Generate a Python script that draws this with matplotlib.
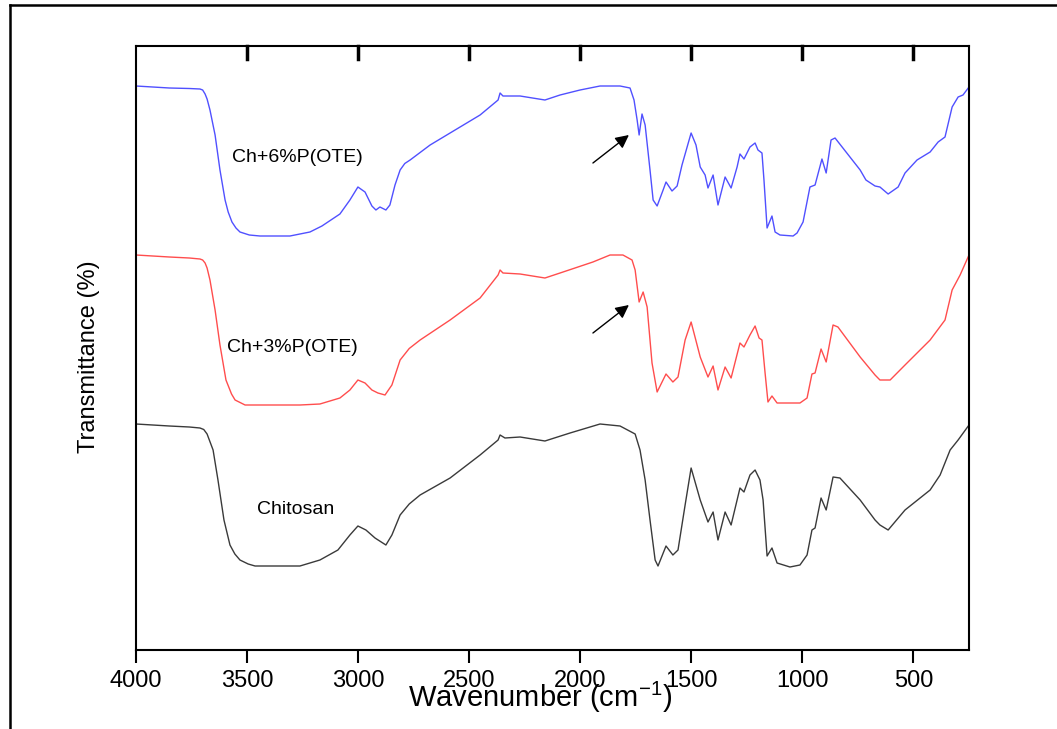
import numpy as np
import matplotlib
matplotlib.use('Agg')
import matplotlib.pyplot as plt
from matplotlib.lines import Line2D

plt.rcParams['font.family'] = ['Liberation Sans', 'DejaVu Sans']
plt.rcParams['mathtext.fontset'] = 'custom'
plt.rcParams['mathtext.rm'] = 'Liberation Sans'
plt.rcParams['mathtext.it'] = 'Liberation Sans:italic'

# FTIR spectra (wavenumber in cm-1, transmittance in offset arbitrary units)
wn_6 = [4000, 3850, 3760, 3712, 3700, 3689, 3680, 3667, 3644, 3622, 3599, 3585,
        3568, 3550, 3532, 3490, 3442, 3307, 3217,
        3163, 3082, 3037, 3001, 2969, 2938, 2920, 2902, 2875, 2857, 2834, 2811,
        2790, 2766, 2676, 2541, 2451, 2370, 2361, 2348, 2271, 2159, 2091, 2001, 1911,
        1821, 1776, 1758, 1744, 1735, 1722, 1708, 1686, 1672, 1654, 1627, 1614,
        1587, 1564, 1542, 1501, 1479, 1460, 1438, 1425, 1402, 1380, 1348, 1321,
        1294, 1281, 1263, 1236, 1213, 1200, 1182, 1173, 1159, 1137, 1123, 1101,
        1042, 1024, 997, 966, 943, 912, 893, 871, 853, 740, 714, 673, 651, 614,
        569, 538, 484, 425, 389, 358, 326, 299, 277, 250]
t_6 = [112.8, 112.4, 112.3, 112.2, 112.0, 111.2, 110.2, 108, 103, 96, 90, 87.6,
       85.6, 84.4, 83.6, 83.0, 82.8, 82.8, 83.6,
       84.8, 87.2, 90, 92.6, 91.6, 88.8, 88, 88.6, 88, 89, 93, 96,
       97.3, 98, 101, 104.6, 107, 110, 111.4, 110.8, 110.8, 110, 111, 112, 112.8,
       112.8, 112.4, 110, 106, 103, 107.2, 105, 96, 90, 88.8, 92, 93.6,
       91.8, 92.8, 97, 103.4, 101, 96.6, 95, 92.4, 95, 89, 94.6, 92.4,
       96.6, 99.2, 98.2, 100.6, 101.4, 100, 99.4, 94, 84.4, 86.8, 83.6, 83,
       82.8, 83.4, 85.6, 92.6, 93, 98.2, 95.4, 102, 102.4, 96, 94, 92.8, 92.6, 91.2,
       92.6, 95.4, 98, 99.6, 101.6, 102.6, 108.6, 110.6, 111, 112.6]

wn_3 = [4000, 3850, 3760, 3712, 3700, 3689, 3680, 3667, 3644, 3622, 3595, 3570,
        3554, 3509, 3262, 3172, 3082,
        3037, 3001, 2969, 2938, 2911, 2879, 2848, 2811, 2770, 2721, 2586, 2451, 2370,
        2361, 2348, 2271, 2159, 2091, 1943, 1866, 1808, 1767, 1753, 1735, 1717,
        1699, 1677, 1654, 1614, 1583, 1560, 1528, 1501, 1460, 1425, 1402, 1380,
        1348, 1321, 1281, 1263, 1236, 1213, 1195, 1182, 1168, 1155, 1137, 1114,
        1011, 979, 957, 943, 916, 893, 862, 840, 740, 673, 651, 605, 538, 425,
        358, 326, 290, 250]
t_3 = [79, 78.6, 78.4, 78.2, 78.0, 77.4, 76.4, 74, 68, 61, 54, 51.2,
       50, 49, 49, 49.2, 50.4,
       52, 54, 53.4, 52, 51.4, 51, 53, 58, 60.3, 62, 66, 70.4, 75,
       76, 75.4, 75.2, 74.4, 75.4, 77.6, 79, 79, 78, 76, 69.6, 71.6,
       68.6, 57.4, 51.6, 55.2, 53.6, 54.6, 62, 65.6, 58.6, 54.6, 56.8, 52,
       56.6, 54.4, 61.4, 60.6, 63, 64.8, 62.4, 62, 55.4, 49.6, 50.8, 49.4,
       49.4, 50.4, 55.2, 55.4, 60.2, 57.6, 65, 64.6, 58.6, 55, 54, 54, 57, 62,
       66, 72, 75, 79]

wn_ch = [4000, 3850, 3760, 3712, 3695, 3680, 3653, 3631, 3604, 3577, 3555, 3532,
         3495, 3464, 3262, 3172, 3091,
         3037, 3001, 2965, 2924, 2875, 2848, 2811, 2770, 2721, 2586, 2451, 2370, 2361,
         2339, 2271, 2159, 2046, 1911, 1821, 1753, 1731, 1708, 1686, 1663, 1650,
         1614, 1583, 1560, 1528, 1501, 1460, 1425, 1402, 1380, 1348, 1321, 1281,
         1263, 1236, 1213, 1191, 1177, 1159, 1137, 1114, 1056, 1011, 979, 957,
         943, 916, 893, 862, 831, 740, 673, 651, 614, 538, 425, 380, 335, 299, 250]
t_ch = [45.2, 44.8, 44.6, 44.4, 44.1, 43.2, 40, 34, 26, 21, 19.2, 18,
        17.2, 16.8, 16.8, 18, 20,
        23, 24.8, 24, 22.4, 21, 23, 27, 29.2, 31, 34.4, 39, 42, 43,
        42.4, 42.6, 41.8, 43.4, 45.2, 44.8, 43.2, 40, 34, 26, 18, 16.8,
        20.8, 19, 20, 29, 36.4, 30, 25.6, 27.6, 22, 27.6, 25, 32.4,
        31.6, 35, 36, 34, 30, 18.8, 20.4, 17.4, 16.6, 17, 19, 24,
        24.4, 30.4, 28, 34.6, 34.4, 30, 26, 25, 24, 28, 32, 35, 40, 42, 45]

labels = ['Ch+6%P(OTE)', 'Ch+3%P(OTE)', 'Chitosan']
label_pos = [(3275, 98.4), (3298, 60.4), (3280, 28)]
arrow_tails = [(1943, 97.4), (1943, 63.4)]
arrow_heads = [(1781, 103), (1781, 69)]
xticks = [4000, 3500, 3000, 2500, 2000, 1500, 1000, 500]

fig = plt.figure(figsize=(10.57, 7.29), dpi=100)
ax = fig.add_axes([136/1057, 1-650/729, 833/1057, 604/729])

ax.plot(wn_6, t_6, color='#5050ff', lw=1.0)
ax.plot(wn_3, t_3, color='#ff4d4d', lw=1.0)
ax.plot(wn_ch, t_ch, color='#3a3a3a', lw=1.0)

for txt, (x, y) in zip(labels, label_pos):
    ax.text(x, y, txt, fontsize=14, ha='center', va='center')

for tail, head in zip(arrow_tails, arrow_heads):
    ax.annotate('', xy=head, xytext=tail,
                arrowprops=dict(arrowstyle='-|>', color='k', lw=1.0,
                                mutation_scale=20, shrinkA=0, shrinkB=0))

ax.set_xlim(4000, 250)
ax.set_ylim(0, 120.8)
ax.set_xticks(xticks)
ax.set_yticks([])
ax.tick_params(axis='x', direction='out', length=9.5, width=1.5,
               labelsize=17, pad=5)
for s in ax.spines.values():
    s.set_linewidth(1.5)

# inward ticks along the top edge, same positions as the bottom ones
tick_top = 120.8
tick_bot = 118.2
for xt in xticks[1:]:
    ax.plot([xt, xt], [tick_bot, tick_top], color='black', lw=2.5,
            clip_on=False, zorder=5)

ax.set_xlabel('Wavenumber (cm$^{-1}$)', fontsize=21)
ax.xaxis.set_label_coords(0.485, -0.078)
ax.xaxis.label.set_va('center')
ax.set_ylabel('Transmittance (%)', fontsize=17)
ax.yaxis.set_label_coords(-0.056, 0.485)
ax.yaxis.label.set_va('center')

# outer frame (left and top edges)
fig.add_artist(Line2D([10/1057, 10/1057], [0, 1-5/729], color='k', lw=1.8,
                      transform=fig.transFigure))
fig.add_artist(Line2D([10/1057, 1], [1-5/729, 1-5/729], color='k', lw=1.8,
                      transform=fig.transFigure))

fig.savefig('out.png', dpi=100)
